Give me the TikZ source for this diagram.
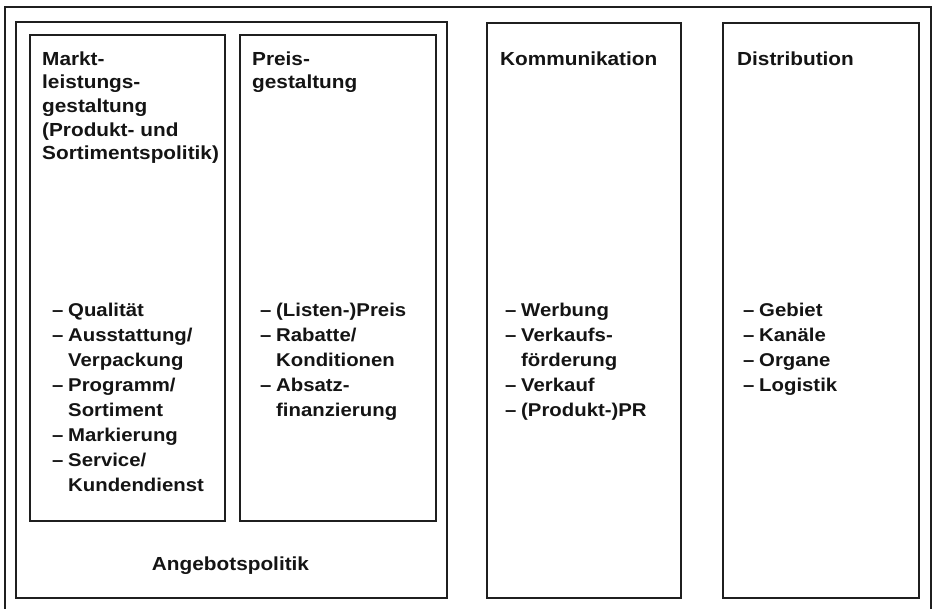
\documentclass[tikz,border=0pt]{standalone}
\usepackage{fontspec}
\setmainfont{Liberation Sans}[FakeStretch=1.1]

% one item of a list: dash hanging to the left of the text
\newcommand{\mkitem}[1]{\makebox[16pt][l]{--}#1}
% continuation line of an item
\newcommand{\mkcont}[1]{\hspace*{16pt}#1}

\tikzset{
  frame/.style={draw=black!88, line width=2pt},
  panel/.style={draw=black!88, line width=2pt, rectangle, inner sep=0pt, anchor=north west},
  % multi-line texts are placed by the baseline of their last line
  head/.style={anchor=base west, inner sep=0pt, align=left, text=black!92,
    font=\bfseries\fontsize{18.9}{23.7}\selectfont},
  listing/.style={anchor=base west, inner sep=0pt, align=left, text=black!92,
    font=\bfseries\fontsize{18.5}{25}\selectfont},
}

\begin{document}
\begin{tikzpicture}[x=1pt, y=-1pt]
  \useasboundingbox (0,0) rectangle (934,608);
  \fill[white] (0,0) rectangle (934,608);

  % outer frame, open at the bottom edge of the page
  \draw[frame] (5,620) -- (5,7) -- (931,7) -- (931,620);

  % panels
  \node[panel, minimum width=431pt, minimum height=576pt] (ang)   at (15,21)  {};
  \node[panel, minimum width=195pt, minimum height=486pt] (markt) at (29,34)  {};
  \node[panel, minimum width=196pt, minimum height=486pt] (preis) at (239,34) {};
  \node[panel, minimum width=194pt, minimum height=575pt] (komm)  at (486,22) {};
  \node[panel, minimum width=196pt, minimum height=575pt] (dist)  at (722,22) {};

  % headings
  \node[head] (hmarkt) at (42,159.8) {Markt-\\leistungs-\\gestaltung\\(Produkt- und\\Sortimentspolitik)};
  \node[head] (hpreis) at (252,88.7) {Preis-\\gestaltung};
  \node[head] (hkomm)  at (500,65)   {Kommunikation};
  \node[head] (hdist)  at (737,65)   {Distribution};

  % lists
  \node[listing] (lmarkt) at (52,491) {\mkitem{Qualität}\\\mkitem{Ausstattung/}\\\mkcont{Verpackung}\\
    \mkitem{Programm/}\\\mkcont{Sortiment}\\\mkitem{Markierung}\\\mkitem{Service/}\\\mkcont{Kundendienst}};
  \node[listing] (lpreis) at (260,416) {\mkitem{(Listen-)Preis}\\\mkitem{Rabatte/}\\\mkcont{Konditionen}\\
    \mkitem{Absatz-}\\\mkcont{finanzierung}};
  \node[listing] (lkomm)  at (505,416) {\mkitem{Werbung}\\\mkitem{Verkaufs-}\\\mkcont{förderung}\\
    \mkitem{Verkauf}\\\mkitem{(Produkt-)PR}};
  \node[listing] (ldist)  at (743,391) {\mkitem{Gebiet}\\\mkitem{Kanäle}\\\mkitem{Organe}\\\mkitem{Logistik}};

  % caption of the left panel group
  \node[head, anchor=base] (hang) at (230.5,570) {Angebotspolitik};
\end{tikzpicture}
\end{document}
